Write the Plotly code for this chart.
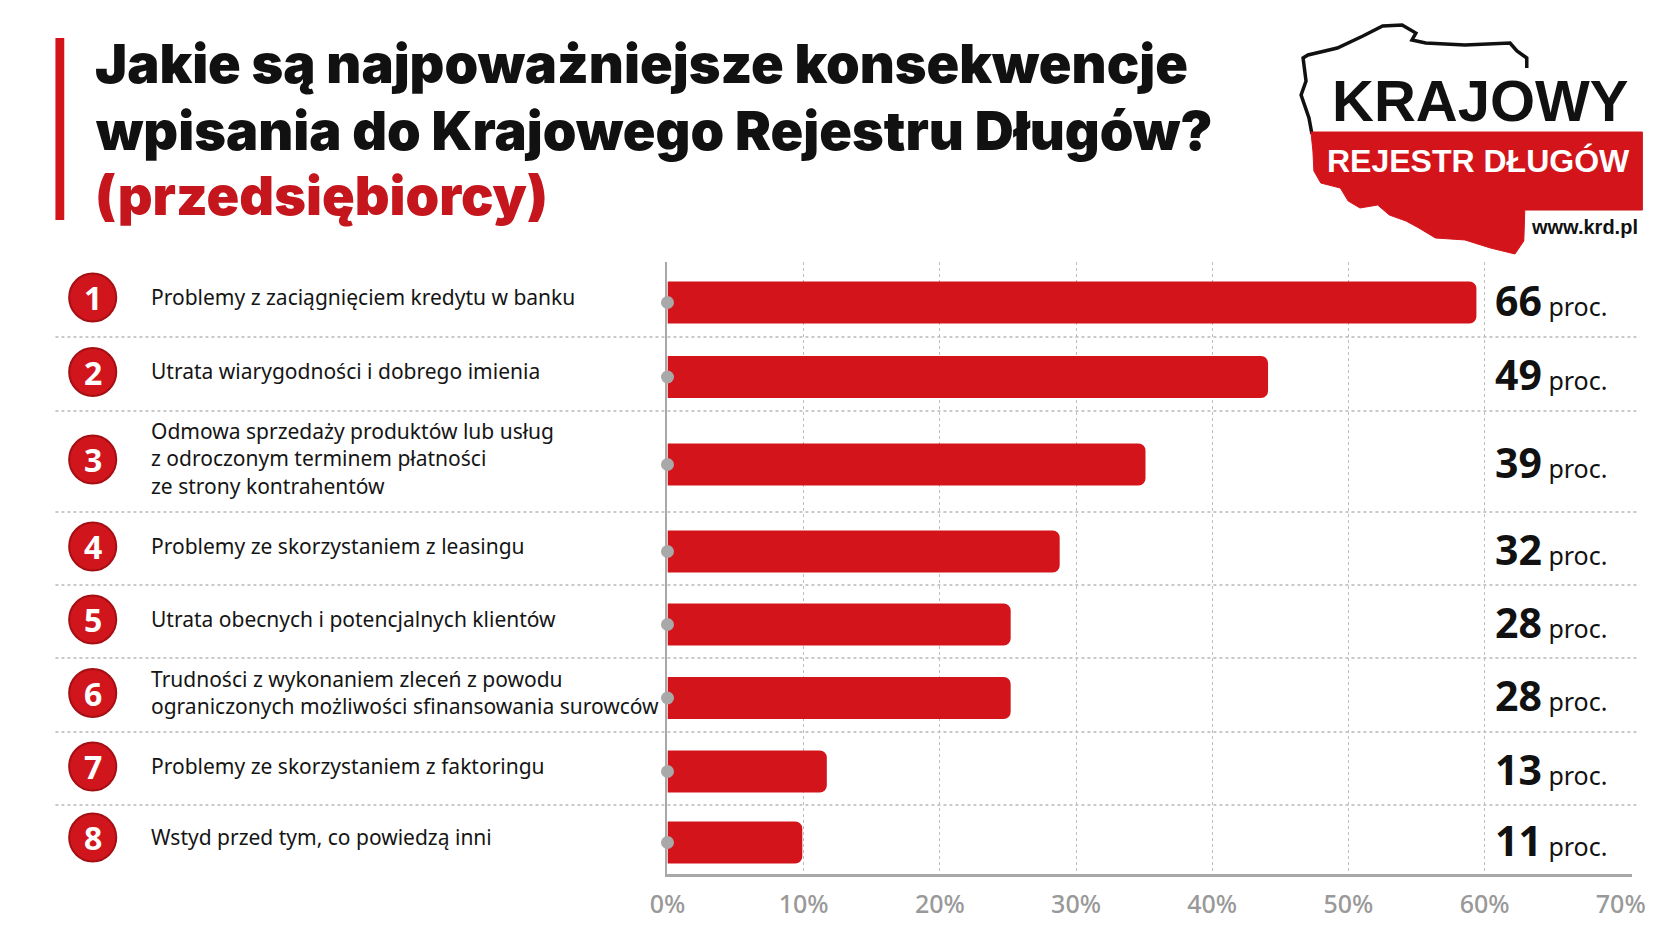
import plotly.graph_objects as go

# ---- data ----
categories = [
    "Problemy z zaciągnięciem kredytu w banku",
    "Utrata wiarygodności i dobrego imienia",
    "Odmowa sprzedaży produktów lub usług<br>z odroczonym terminem płatności<br>ze strony kontrahentów",
    "Problemy ze skorzystaniem z leasingu",
    "Utrata obecnych i potencjalnych klientów",
    "Trudności z wykonaniem zleceń z powodu<br>ograniczonych możliwości sfinansowania surowców",
    "Problemy ze skorzystaniem z faktoringu",
    "Wstyd przed tym, co powiedzą inni",
]
values = [66, 49, 39, 32, 28, 28, 13, 11]
ranks = [1, 2, 3, 4, 5, 6, 7, 8]
tick_vals = [0, 10, 20, 30, 40, 50, 60, 70]
tick_text = ["0%", "10%", "20%", "30%", "40%", "50%", "60%", "70%"]

# ---- layout helpers ----
W, H = 1672, 941
RED = "#d3151b"
row_heights = [75, 74, 101, 73, 73, 74, 73, 69]   # px, row 3 is taller (3 lines)
bounds = [0]
for h in row_heights:
    bounds.append(bounds[-1] + h)
centers = [(bounds[i] + bounds[i + 1]) / 2 + 3 for i in range(len(row_heights))]


def px(x):
    return x / W


def py(y):
    return 1 - y / H


def poly(pts, close=False):
    s = "M " + " L ".join(f"{px(a):.4f},{py(b):.4f}" for a, b in pts)
    return s + (" Z" if close else "")


plot_top, plot_bot = 254, 866
x_left, x_right = 654, 1637
bar_squeeze = 0.9   # bars in the original are drawn shorter than the axis

fig = go.Figure()

fig.add_trace(go.Bar(
    x=values, y=centers, orientation="h", width=42,
    marker=dict(color=RED, line=dict(width=0)),
    xaxis="x", yaxis="y", hoverinfo="skip",
))
fig.add_trace(go.Scatter(
    x=[0] * len(values), y=centers, mode="markers",
    marker=dict(size=13, color="#a9a9a9"),
    xaxis="x2", yaxis="y", cliponaxis=False, hoverinfo="skip",
))
fig.add_trace(go.Scatter(
    x=[0], y=[centers[0]], mode="markers", marker=dict(opacity=0),
    xaxis="x3", yaxis="y", hoverinfo="skip",
))

shapes = []
annotations = []

# row separators
for b in bounds[1:-1]:
    shapes.append(dict(type="line", xref="paper", yref="y",
                       x0=px(30), x1=px(1645), y0=b, y1=b,
                       line=dict(color="#b8b8b8", width=1.5, dash="dot"),
                       layer="below"))

# rank circles + labels + values
for r, lab, v, c in zip(ranks, categories, values, centers):
    shapes.append(dict(type="circle", xref="paper", yref="y",
                       x0=px(68 - 24), x1=px(68 + 24), y0=c - 29, y1=c + 19,
                       fillcolor="#d0161c", line=dict(color="#a50f14", width=2)))
    annotations.append(dict(xref="paper", yref="y", x=px(68), y=c - 5,
                            text=f"<b>{r}</b>", showarrow=False,
                            xanchor="center", yanchor="middle",
                            font=dict(family="Noto Sans", size=32, color="white")))
    annotations.append(dict(xref="paper", yref="y", x=px(125), y=c - 6,
                            text=lab, showarrow=False, align="left",
                            xanchor="left", yanchor="middle",
                            font=dict(family="Noto Sans", size=21, color="#151515")))
    annotations.append(dict(xref="paper", yref="y", x=px(1496), y=c - 3,
                            text=f"<b>{v}</b><span style='font-size:25px'> proc.</span>",
                            showarrow=False, xanchor="left", yanchor="middle",
                            font=dict(family="Noto Sans", size=41, color="#111111")))

# title block
shapes.append(dict(type="rect", xref="paper", yref="paper",
                   x0=px(30), x1=px(39), y0=py(30), y1=py(212),
                   fillcolor=RED, line=dict(width=0)))
title_font = dict(family="Inter", size=54, color="#111111", weight=900)
annotations.append(dict(xref="paper", yref="paper", x=px(68), y=py(56),
                        text="Jakie są najpoważniejsze konsekwencje",
                        showarrow=False, xanchor="left", yanchor="middle",
                        font=title_font))
annotations.append(dict(xref="paper", yref="paper", x=px(68), y=py(122),
                        text="wpisania do Krajowego Rejestru Długów?",
                        showarrow=False, xanchor="left", yanchor="middle",
                        font=title_font))
annotations.append(dict(xref="paper", yref="paper", x=px(68), y=py(187),
                        text="(przedsiębiorcy)",
                        showarrow=False, xanchor="left", yanchor="middle",
                        font=dict(family="Inter", size=54, color="#c4161c", weight=900)))

# logo (rough map of Poland)
outline = [(1311, 126), (1308, 110), (1300, 87), (1305, 73), (1302, 50), (1307, 47),
           (1337, 40), (1363, 28), (1383, 18), (1403, 17), (1417, 25), (1413, 32),
           (1427, 35), (1467, 37), (1513, 35), (1520, 43), (1530, 50), (1530, 60)]
shapes.append(dict(type="path", xref="paper", yref="paper", path=poly(outline),
                   line=dict(color="#111111", width=3.5)))
red_map = [(1310, 124), (1648, 124), (1648, 202), (1528, 202), (1527, 233),
           (1518, 246), (1493, 240), (1467, 232), (1437, 230), (1420, 220),
           (1407, 213), (1390, 207), (1378, 197), (1360, 200), (1348, 193),
           (1340, 180), (1320, 175), (1313, 163), (1312, 143)]
shapes.append(dict(type="path", xref="paper", yref="paper", path=poly(red_map, True),
                   fillcolor=RED, line=dict(color=RED, width=1)))
annotations.append(dict(xref="paper", yref="paper", x=px(1482), y=py(92),
                        text="KRAJOWY", showarrow=False,
                        xanchor="center", yanchor="middle",
                        font=dict(family="Liberation Sans", size=58, color="#111111", weight=700)))
annotations.append(dict(xref="paper", yref="paper", x=px(1481), y=py(153),
                        text="REJESTR DŁUGÓW", showarrow=False,
                        xanchor="center", yanchor="middle",
                        font=dict(family="Liberation Sans", size=32, color="white", weight=700)))
annotations.append(dict(xref="paper", yref="paper", x=px(1646), y=py(219),
                        text="www.krd.pl", showarrow=False,
                        xanchor="right", yanchor="middle",
                        font=dict(family="Liberation Sans", size=20, color="#111111", weight=700)))

dom = [px(x_left), px(x_right)]
fig.update_layout(
    width=W, height=H,
    margin=dict(l=0, r=0, t=0, b=0),
    paper_bgcolor="white", plot_bgcolor="white",
    showlegend=False,
    barcornerradius=7,
    xaxis=dict(domain=dom, range=[0, 70.8 / bar_squeeze], visible=False, fixedrange=True),
    xaxis2=dict(domain=dom, range=[0, 70.8], overlaying="x", anchor="y", side="bottom",
                tickvals=tick_vals, ticktext=tick_text, ticks="", showgrid=False,
                zeroline=False, showline=True, linecolor="#a8a8a8", linewidth=2.5,
                tickfont=dict(family="Noto Sans", size=25, color="#999999", weight=500),
                ticklabelstandoff=6),
    xaxis3=dict(domain=dom, range=[0, 70.8], overlaying="x", anchor="y",
                tickvals=[10, 20, 30, 40, 50, 60], showticklabels=False, ticks="",
                showgrid=True, gridcolor="#bdbdbd", gridwidth=1.3, griddash="dot",
                zeroline=False, showline=False),
    yaxis=dict(domain=[py(plot_bot), py(plot_top)], range=[bounds[-1], 0],
               showticklabels=False, ticks="", showgrid=False, zeroline=False,
               showline=True, linecolor="#a8a8a8", linewidth=2),
    shapes=shapes,
    annotations=annotations,
)

fig.write_html("out.html")
